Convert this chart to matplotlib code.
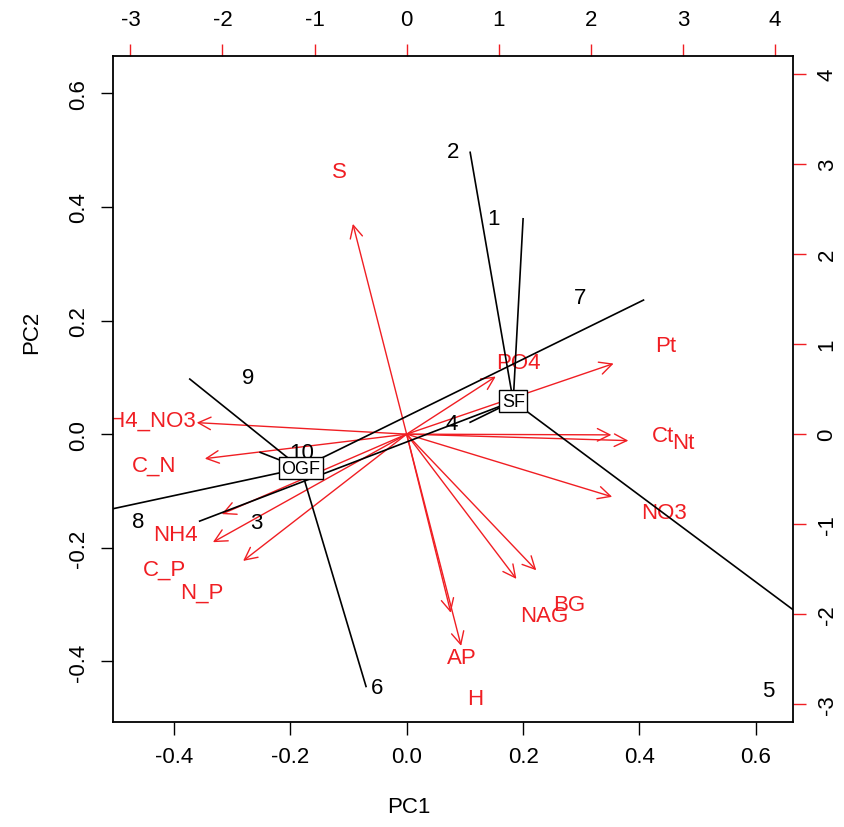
import numpy as np
import matplotlib.pyplot as plt

plt.rcParams['font.family'] = ['Liberation Sans', 'DejaVu Sans']
plt.rcParams['axes.unicode_minus'] = False

# ------ DATA -----------------------------------

# variables (red arrows), in the units of the top / right axes
var_names = ['S', 'PO4', 'Pt', 'Ct', 'Nt', 'NO3', 'BG', 'NAG', 'AP', 'H',
             'NH4_NO3', 'C_N', 'NH4', 'C_P', 'N_P']
var_x = [-0.73, 1.21, 2.81, 2.78, 3.01, 2.79, 1.76, 1.49, 0.60, 0.74,
         -2.85, -2.74, -2.51, -2.63, -2.22]
var_y = [2.92, 0.80, 0.98, -0.01, -0.09, -0.87, -1.89, -2.01, -2.48, -2.94,
         0.16, -0.34, -1.11, -1.50, -1.76]

# sites (black numbers), PC1 / PC2 units
site_names = ['1', '2', '3', '4', '5', '6', '7', '8', '9', '10']
site_x = [0.149, 0.080, -0.259, 0.078, 0.622, -0.051, 0.298, -0.461, -0.273, -0.180]
site_y = [0.379, 0.498, -0.155, 0.019, -0.451, -0.445, 0.241, -0.153, 0.099, -0.032]

# class scores for the star plot + grouping
star_x = [0.200, 0.109, -0.622, 0.109, 0.853, -0.070, 0.407, -0.356, -0.373, -0.252]
star_y = [0.379, 0.496, -0.157, 0.021, -0.453, -0.444, 0.236, -0.153, 0.097, -0.032]
groups = ['SF', 'SF', 'OGF', 'SF', 'SF', 'OGF', 'OGF', 'SF', 'OGF', 'OGF']

pc_ticks = [-0.4, -0.2, 0.0, 0.2, 0.4, 0.6]
var_ticks = [-3, -2, -1, 0, 1, 2, 3, 4]

# ------ FIGURE ---------------------------------

RED = '#f01e23'
FS = 16

fig = plt.figure(figsize=(8.44, 8.28), dpi=100)
pos = [113 / 844, 1 - 723 / 828, 680 / 844, 666 / 828]

# variable layer (below)
axv = fig.add_axes(pos)
axv.set_xlim(-3.189, 4.196)
axv.set_ylim(-3.197, 4.2)
for s in axv.spines.values():
    s.set_visible(False)
axv.xaxis.tick_top()
axv.yaxis.tick_right()
axv.set_xticks(var_ticks)
axv.set_yticks(var_ticks)
axv.tick_params(axis='both', color=RED, labelcolor='black', labelsize=FS,
                length=9, width=1, direction='out')
axv.tick_params(axis='x', pad=10)
axv.tick_params(axis='y', pad=8, labelrotation=90)
for lbl in axv.get_yticklabels():
    lbl.set_va('center')

for name, x, y in zip(var_names, var_x, var_y):
    axv.annotate('', xy=(0.8 * x, 0.8 * y), xytext=(0, 0),
                 arrowprops=dict(arrowstyle='->,head_length=0.9,head_width=0.45',
                                 color=RED, lw=1, shrinkA=0, shrinkB=0))
    axv.text(x, y, name, color=RED, fontsize=FS, ha='center', va='center',
             clip_on=True)

# site layer (on top)
ax = fig.add_axes(pos)
ax.set_zorder(axv.get_zorder() + 1)
ax.patch.set_visible(False)
ax.set_xlim(-0.505, 0.664)
ax.set_ylim(-0.5065, 0.6655)
ax.set_xticks(pc_ticks)
ax.set_yticks(pc_ticks)
ax.set_xticklabels(['%.1f' % t for t in pc_ticks])
ax.set_yticklabels(['%.1f' % t for t in pc_ticks])
ax.tick_params(axis='both', labelsize=FS, length=9, width=1, direction='out')
ax.tick_params(axis='x', pad=8)
ax.tick_params(axis='y', pad=8, labelrotation=90)
for lbl in ax.get_yticklabels():
    lbl.set_va('center')
for s in ax.spines.values():
    s.set_linewidth(1.3)

for name, x, y in zip(site_names, site_x, site_y):
    ax.text(x, y, name, fontsize=FS, ha='center', va='center', clip_on=True)

# star plot: each class score joined to its group centroid
star_x = np.array(star_x)
star_y = np.array(star_y)
groups = np.array(groups)
for g in ['OGF', 'SF']:
    m = groups == g
    cx, cy = star_x[m].mean(), star_y[m].mean()
    for x, y in zip(star_x[m], star_y[m]):
        ax.plot([cx, x], [cy, y], color='black', lw=1.2, zorder=3)
    ax.text(cx, cy, g, fontsize=13, ha='center', va='center', zorder=5,
            bbox=dict(boxstyle='square,pad=0.15', fc='white', ec='black', lw=1))

fig.text(409 / 844, 1 - 808 / 828, 'PC1', fontsize=FS, ha='center', va='center')
fig.text(32 / 844, 1 - 332 / 828, 'PC2', fontsize=FS, ha='center', va='center',
         rotation=90)

fig.savefig('out.png', dpi=100)
